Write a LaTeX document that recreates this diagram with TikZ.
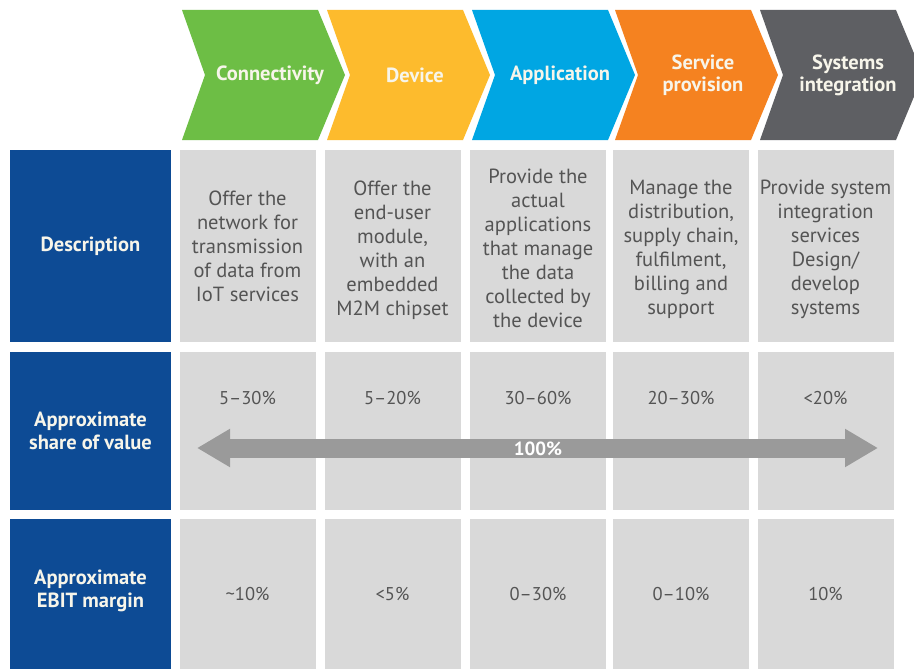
\documentclass[tikz,border=0pt]{standalone}
\usepackage{fontspec}
\setmainfont{PT Sans}
\usetikzlibrary{arrows.meta}
\definecolor{cgreen}{HTML}{6DBE45}
\definecolor{cyellow}{HTML}{FDBB2D}
\definecolor{cblue}{HTML}{00A6E3}
\definecolor{corange}{HTML}{F58220}
\definecolor{cdark}{HTML}{5E5F63}
\definecolor{navy}{HTML}{0D4B95}
\definecolor{cellgray}{HTML}{D9D9D9}
\definecolor{arrowgray}{HTML}{9A9A9A}
\definecolor{txtgray}{HTML}{545454}
\definecolor{headwhite}{HTML}{F7F5EA}
\begin{document}
\begin{tikzpicture}[x=1pt,y=-1pt,
  chevtext/.style={text=headwhite,font=\bfseries\fontsize{20.5}{22}\selectfont,align=center,inner sep=0pt},
  labelcell/.style={fill=navy,minimum width=161pt,inner sep=0pt},
  labeltext/.style={text=headwhite,font=\bfseries\fontsize{20.5}{23}\selectfont,align=center,inner sep=0pt},
  cell/.style={fill=cellgray,minimum width=136pt,inner sep=0pt},
  celltext/.style={text=txtgray,font=\fontsize{20.5}{24}\selectfont,align=center,inner sep=0pt},
  valtext/.style={text=txtgray,font=\fontsize{18.5}{22}\selectfont,align=center,inner sep=0pt},
  bigarrow/.style={draw=arrowgray,line width=19pt,{Triangle[length=33pt,width=36pt]}-{Triangle[length=33pt,width=36pt]}}
]
\useasboundingbox[fill=white] (0,0) rectangle (914,669);

% chevrons
\foreach \x/\c/\n/\t in {182/cgreen/h1/Connectivity,327/cyellow/h2/Device,472/cblue/h3/Application,615/corange/h4/{Service\\provision},760/cdark/h5/{Systems\\integration}}{
  \fill[\c] (\x,10) -- ++(136,0) -- ++(27,65) -- ++(-27,65) -- ++(-136,0) -- ++(23,-65) -- cycle;
  \node[chevtext] (\n) at (\x+88,75) {\t};
}

% row labels
\node[labelcell,minimum height=192pt] (ld) at (90.5,246) {};
\node[labeltext] (ldt) at (ld.center) {Description};
\node[labelcell,minimum height=158pt] (ls) at (90.5,431) {};
\node[labeltext] (lst) at (ls.center) {Approximate\\share of value};
\node[labelcell,minimum height=150pt] (le) at (90.5,594) {};
\node[labeltext] (let) at (90.5,591) {Approximate\\EBIT margin};

% cells
\foreach \i/\cx in {1/247.5,2/392.5,3/538,4/681,5/825.5}{
  \node[cell,minimum height=192pt] (d\i) at (\cx,246) {};
  \node[cell,minimum height=158pt] (s\i) at (\cx,431) {};
  \node[cell,minimum height=150pt] (e\i) at (\cx,594) {};
}

% description texts
\node[celltext] (dt1) at (d1.center) {Offer the\\network for\\transmission\\of data from\\IoT services};
\node[celltext] (dt2) at (392.5,250) {Offer the\\end-user\\module,\\with an\\embedded\\M2M chipset};
\node[celltext] (dt3) at (538,248) {Provide the\\actual\\applications\\that manage\\the data\\collected by\\the device};
\node[celltext] (dt4) at (681,249) {Manage the\\distribution,\\supply chain,\\fulfilment,\\billing and\\support};
\node[celltext] (dt5) at (825.5,249) {Provide system\\integration\\services\\Design/\\develop\\systems};

% share values
\foreach \i/\v in {1/5--30\%,2/5--20\%,3/30--60\%,4/20--30\%,5/<20\%}{
  \node[valtext] (sv\i) at ([yshift=-46pt]s\i.north) {\v};
}

% EBIT values
\foreach \i/\v in {1/\textasciitilde10\%,2/<5\%,3/0--30\%,4/0--10\%,5/10\%}{
  \node[valtext] (ev\i) at (e\i.center) {\v};
}

% 100% arrow
\coordinate (aL) at (197,448);
\coordinate (aR) at (878,448);
\draw[bigarrow] (aL) -- (aR);
\node[text=white,font=\bfseries\fontsize{19}{20}\selectfont,inner sep=0pt] (hund) at (538,449) {100\%};
\end{tikzpicture}
\end{document}
